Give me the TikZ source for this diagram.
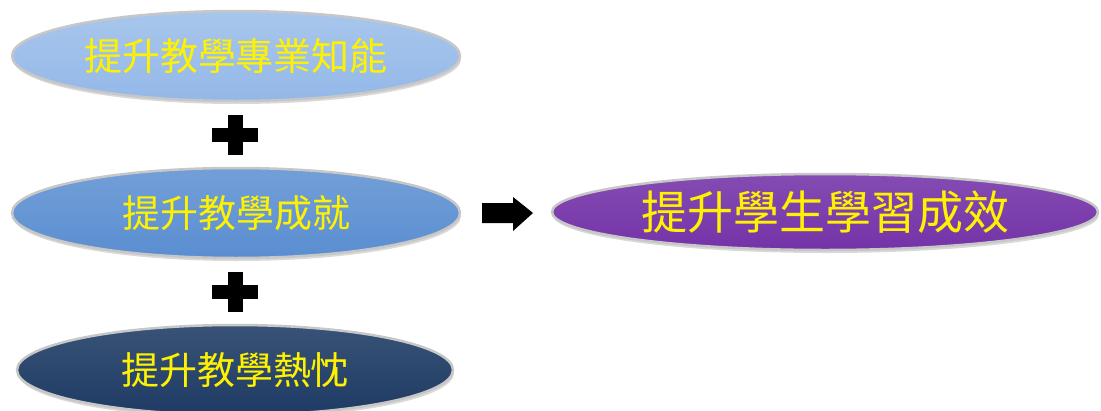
\documentclass[tikz,border=0pt]{standalone}
\usepackage{fontspec}
\newfontfamily\cjk{Noto Sans CJK TC}
\usetikzlibrary{shapes.geometric,shadows}
\definecolor{lightblue}{HTML}{93B8E8}
\definecolor{midblue}{HTML}{5A8ED1}
\definecolor{navy}{HTML}{1E3B64}
\definecolor{violet}{HTML}{7433A8}
\begin{document}
\begin{tikzpicture}[x=1pt,y=-1pt,
    oval/.style={ellipse,inner sep=0pt,minimum width=448pt,minimum height=90pt,
      draw=black!22,line width=2.5pt,
      drop shadow={shadow xshift=1pt,shadow yshift=-3pt,opacity=0.3},
      text=yellow,font=\cjk\fontsize{38}{38}\selectfont}]
    \useasboundingbox (0,0) rectangle (1101,410);
    \node[oval,top color=lightblue!80!white,bottom color=lightblue] (prof) at (236,56) {提升教學專業知能};
    \node[oval,top color=midblue!85!white,bottom color=midblue] (ach) at (236,213) {提升教學成就};
    \node[oval,minimum width=436pt,top color=navy!88!white,bottom color=navy] (zeal) at (235,370) {提升教學熱忱};
    \node[oval,minimum width=546pt,minimum height=76pt,top color=violet!88!white,bottom color=violet,
      font=\cjk\fontsize{46}{46}\selectfont] (goal) at (825,212) {提升學生學習成效};
    \foreach \y in {135,292}{
      \fill (212,\y-7) rectangle (258,\y+7);
      \fill (228,\y-20) rectangle (243,\y+20);
    }
    \fill (482,203)--(513,203)--(513,197)--(533,213)--(513,231)--(513,223)--(482,223)--cycle;
  \end{tikzpicture}
\end{document}
